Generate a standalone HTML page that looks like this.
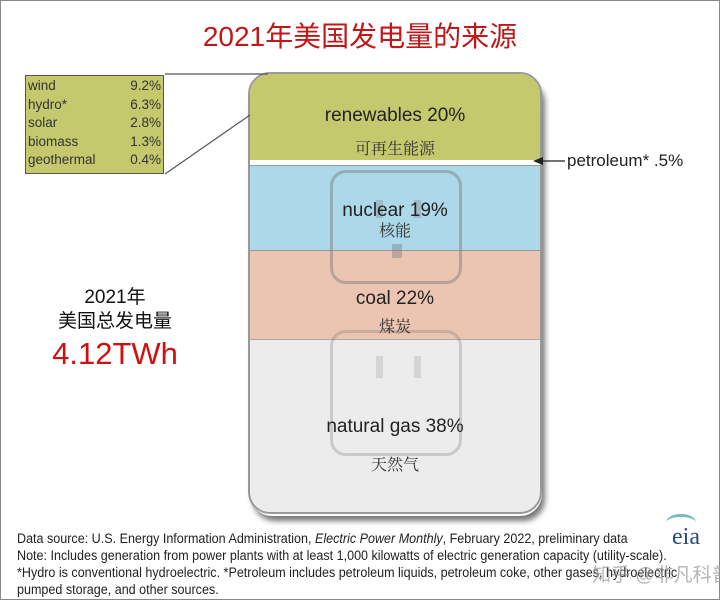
<!DOCTYPE html><html><head><meta charset="utf-8"><style>
body{margin:0;width:720px;height:600px;position:relative;background:#fff;font-family:"Liberation Sans","Noto Sans CJK SC",sans-serif;overflow:hidden}
.a{position:absolute}
.t{position:absolute;width:100%;text-align:center}
.cj{font-family:"Noto Serif CJK SC",serif;font-size:16px;color:#333}
.lab{font-size:19px;color:#222}
</style></head><body>
<div class="a" style="left:0;top:0;width:718px;height:598px;border:1px solid #888"></div>
<div class="t" style="top:15px;font-size:28px;color:#c01818">2021年美国发电量的来源</div>
<div class="a" style="left:250px;top:76px;width:292px;height:440px;border-radius:22px;box-shadow:3px 5px 6px #777"></div>
<div class="a" style="left:248px;top:72px;width:290px;height:438px;border-radius:22px;border:2px solid #999;overflow:hidden;background:#ececec">
 <div class="a" style="left:0;top:0;width:290px;height:86px;background:#c4c96e"></div>
 <div class="a" style="left:0;top:86px;width:290px;height:5px;background:#fff;border-bottom:1px solid #999"></div>
 <div class="a" style="left:0;top:92px;width:290px;height:84px;background:#acd8ea"></div>
 <div class="a" style="left:0;top:176px;width:290px;height:1px;background:#999"></div>
 <div class="a" style="left:0;top:177px;width:290px;height:88px;background:#ecc4b2"></div>
 <div class="a" style="left:0;top:265px;width:290px;height:1px;background:#aaa"></div>
 <div class="a" style="left:80px;top:96px;width:126px;height:108px;border:3px solid rgba(120,120,120,.45);border-radius:16px"></div>
 <div class="a" style="left:126px;top:126px;width:7px;height:18px;background:rgba(120,120,120,.3)"></div>
 <div class="a" style="left:164px;top:126px;width:7px;height:18px;background:rgba(120,120,120,.3)"></div>
 <div class="a" style="left:142px;top:170px;width:10px;height:14px;background:rgba(120,120,120,.4)"></div>
 <div class="a" style="left:80px;top:256px;width:126px;height:120px;border:3px solid rgba(120,120,120,.3);border-radius:16px"></div>
 <div class="a" style="left:126px;top:282px;width:7px;height:22px;background:rgba(120,120,120,.2)"></div>
 <div class="a" style="left:164px;top:282px;width:7px;height:22px;background:rgba(120,120,120,.2)"></div>
 <div class="t lab" style="top:31px">renewables 20%</div>
 <div class="t cj" style="top:62px">可再生能源</div>
 <div class="t lab" style="top:126px">nuclear 19%</div>
 <div class="t cj" style="top:144px">核能</div>
 <div class="t lab" style="top:214px">coal 22%</div>
 <div class="t cj" style="top:240px">煤炭</div>
 <div class="t lab" style="top:342px">natural gas 38%</div>
 <div class="t cj" style="top:378px">天然气</div>
</div>
<svg class="a" style="left:0;top:0" width="720" height="600">
<line x1="165" y1="74" x2="268" y2="74" stroke="#555" stroke-width="1.2"/>
<line x1="165" y1="174" x2="250" y2="115" stroke="#555" stroke-width="1.2"/>
<line x1="542" y1="161" x2="565" y2="161" stroke="#222" stroke-width="1.2"/>
<polygon points="533,161 543,157 543,165" fill="#222"/>
</svg>
<div class="a" style="left:25px;top:75px;width:139px;height:99px;background:#c4c96e;border:1px solid #555;font-size:13.5px;color:#333;line-height:18.6px;padding-top:1px;box-sizing:border-box">
<div style="display:flex;justify-content:space-between;padding:0 2px"><span>wind</span><span>9.2%</span></div>
<div style="display:flex;justify-content:space-between;padding:0 2px"><span>hydro*</span><span>6.3%</span></div>
<div style="display:flex;justify-content:space-between;padding:0 2px"><span>solar</span><span>2.8%</span></div>
<div style="display:flex;justify-content:space-between;padding:0 2px"><span>biomass</span><span>1.3%</span></div>
<div style="display:flex;justify-content:space-between;padding:0 2px"><span>geothermal</span><span>0.4%</span></div>
</div>
<div class="a" style="left:567px;top:151px;font-size:17px;color:#222">petroleum* .5%</div>
<div class="a" style="left:20px;top:286px;width:190px;text-align:center;font-size:19px;color:#111;line-height:24px">2021年<br>美国总发电量</div>
<div class="a" style="left:20px;top:336px;width:190px;text-align:center;font-size:31px;color:#d01010">4.12TWh</div>
<div class="a" style="left:17px;top:530px;font-size:13.5px;color:#222;line-height:17px;white-space:nowrap;transform:scaleX(.93);transform-origin:left">Data source: U.S. Energy Information Administration, <i>Electric Power Monthly</i>, February 2022, preliminary data<br>Note: Includes generation from power plants with at least 1,000 kilowatts of electric generation capacity (utility-scale).<br>*Hydro is conventional hydroelectric. *Petroleum includes petroleum liquids, petroleum coke, other gases, hydroelectric<br>pumped storage, and other sources.</div>
<div class="a" style="left:672px;top:524px;font-size:24px;color:#2a4a7a;font-family:'Liberation Serif',serif">eia</div>
<div class="a" style="left:666px;top:514px;width:30px;height:14px;border-top:3px solid #7bb;border-radius:50% 50% 0 0"></div>
<div class="a" style="left:592px;top:560px;font-size:19px;white-space:nowrap;color:rgba(150,150,150,.7)">知乎 @非凡科普</div>
</body></html>
